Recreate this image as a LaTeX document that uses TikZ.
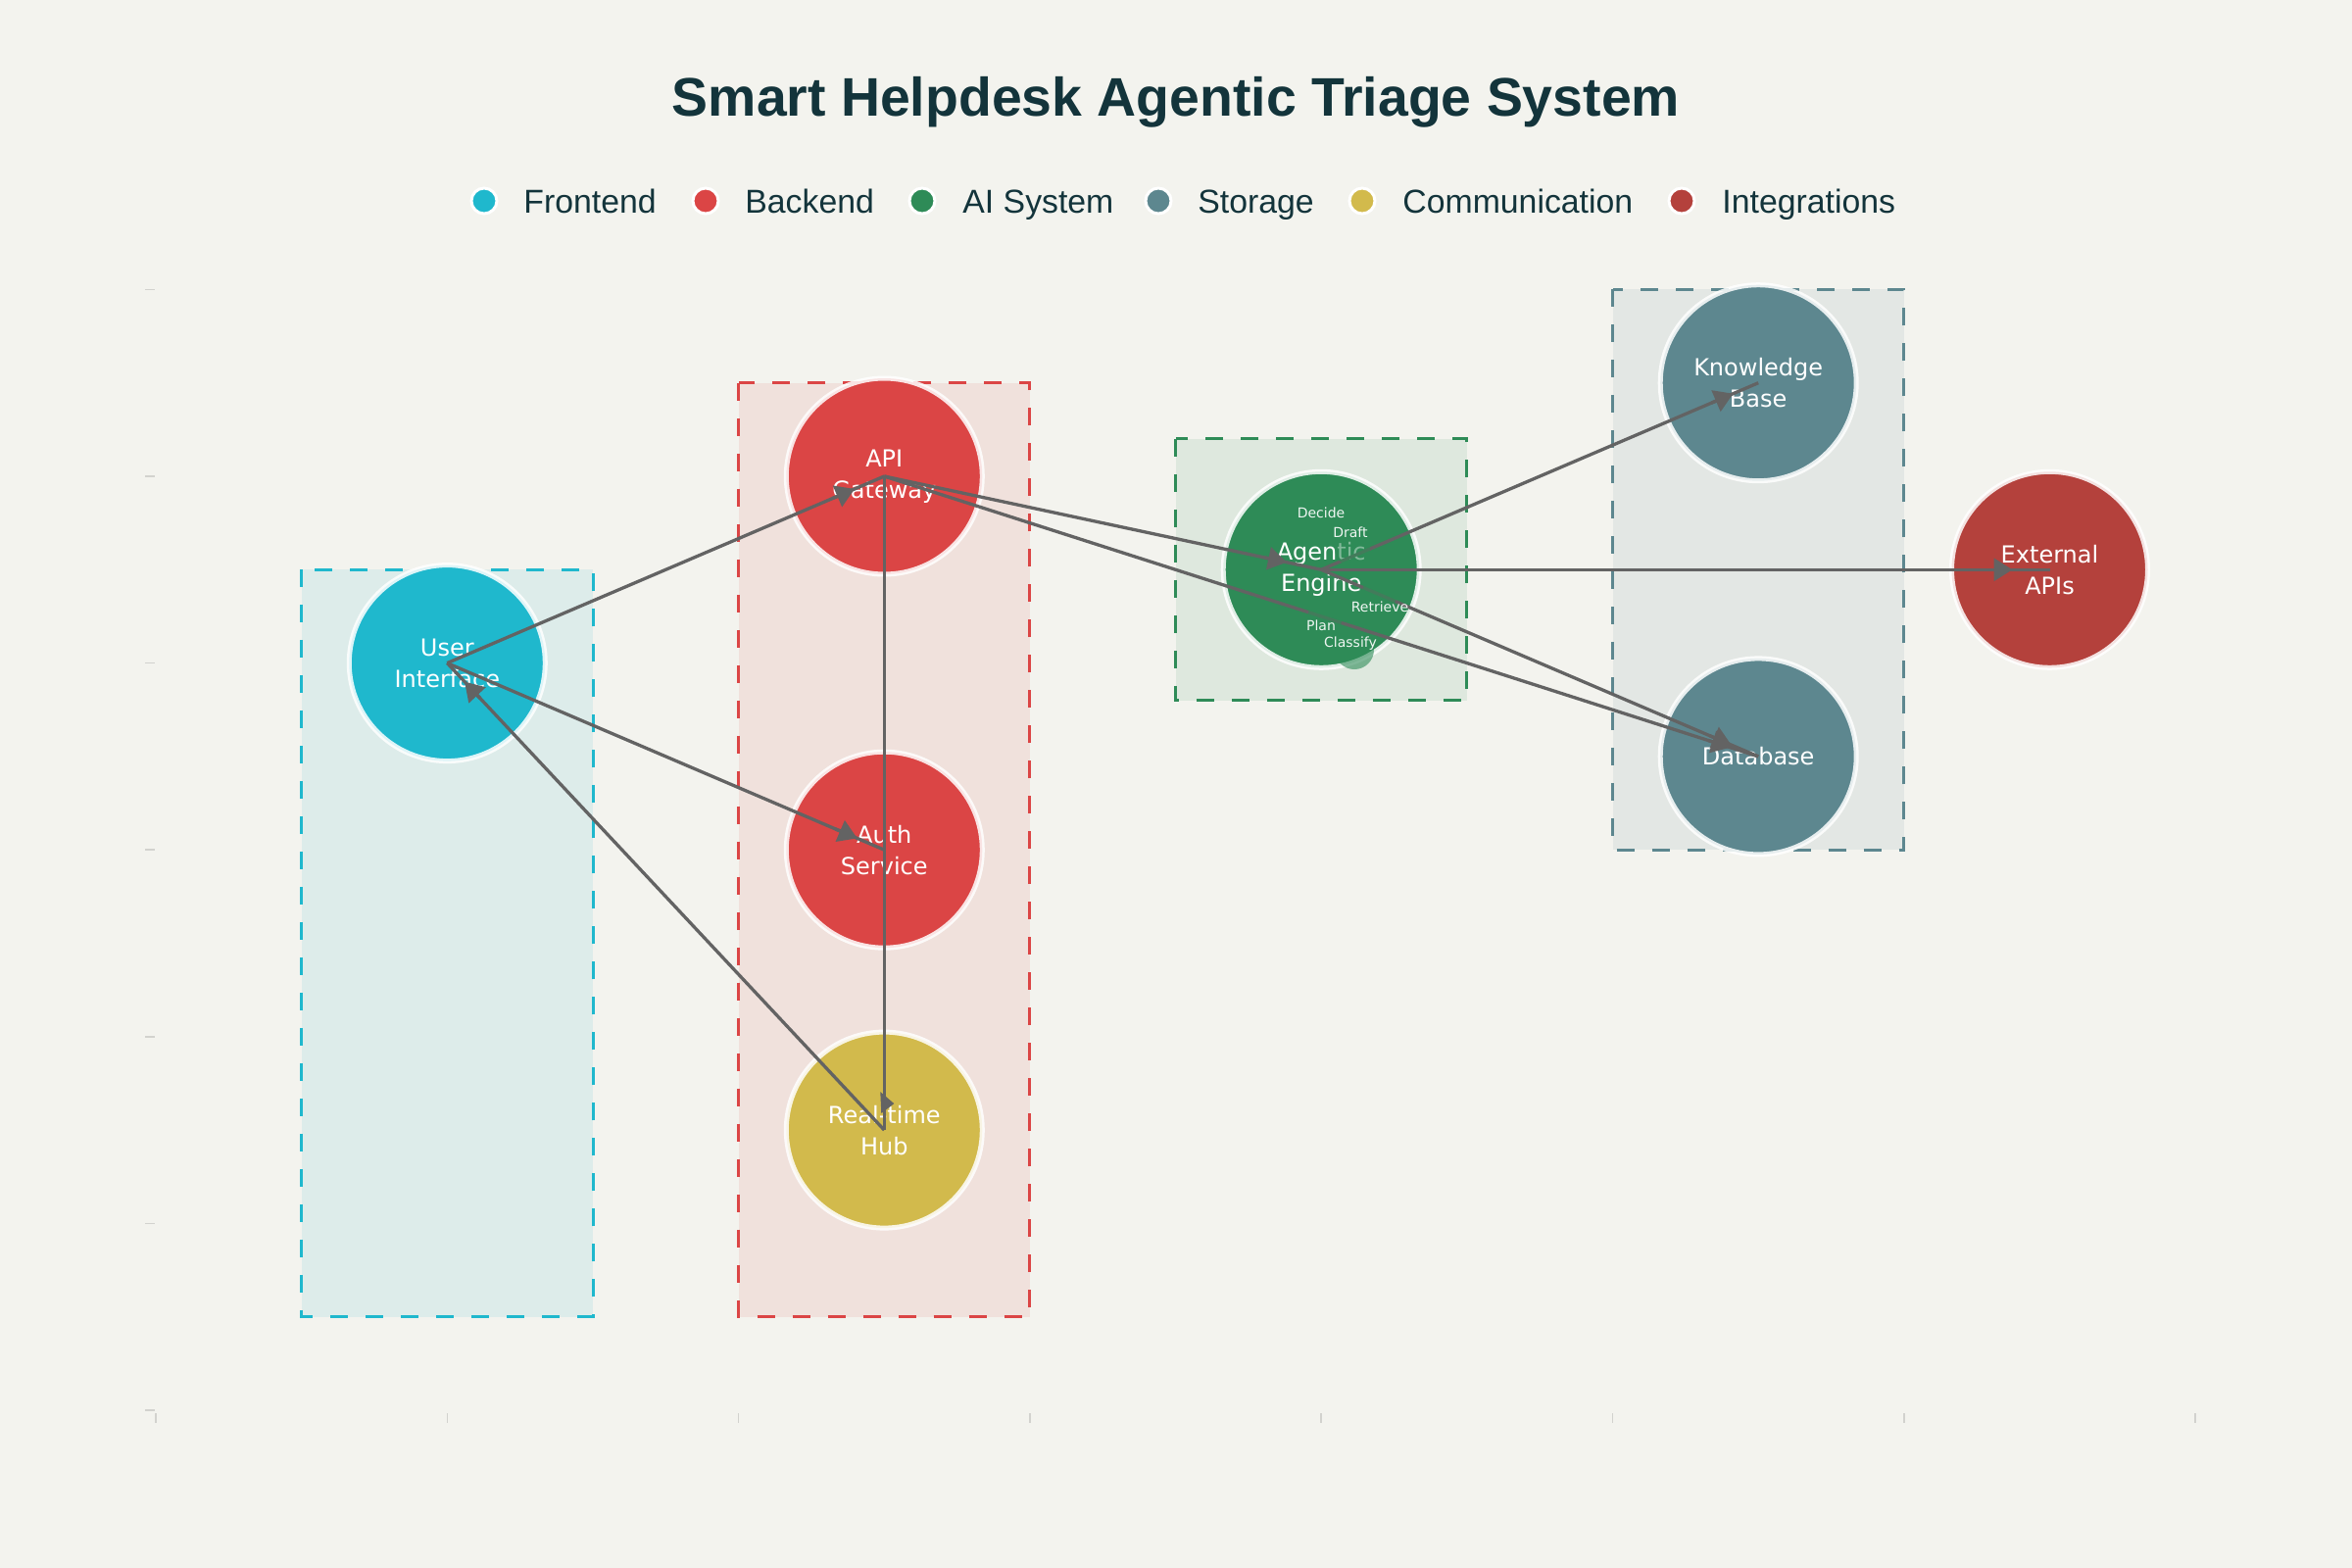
\documentclass[tikz,border=0pt]{standalone}
\usepackage{fontspec}
\setmainfont{DejaVu Sans}
\newfontfamily\legendfont{Liberation Sans}
\usetikzlibrary{arrows.meta,calc}

\definecolor{bg}{HTML}{F3F3EE}
\definecolor{titlec}{HTML}{13343B}
\definecolor{front}{HTML}{1FB8CD}
\definecolor{back}{HTML}{DB4545}
\definecolor{ai}{HTML}{2E8B57}
\definecolor{store}{HTML}{5D878F}
\definecolor{comm}{HTML}{D2BA4C}
\definecolor{integ}{HTML}{B4413C}
\definecolor{edge}{HTML}{636363}
\definecolor{tickc}{HTML}{D2D2CE}

\tikzset{
  comp/.style={circle, minimum size=100pt, inner sep=0pt, fill=#1,
    draw=white, draw opacity=0.85, line width=2.5pt, text=white, align=center,
    font=\fontsize{12pt}{16pt}\selectfont},
  groupbox/.style={draw=#1, fill=#1, fill opacity=0.1, line width=1.5pt,
    dash pattern=on 9pt off 9pt},
  link/.style={draw=edge, line width=1.65pt},
  headtip/.style={draw=edge, line width=1.65pt,
    -{Triangle[length=9.5pt,width=11.5pt]}},
  legdot/.style={circle, minimum size=13pt, inner sep=0pt, fill=#1,
    draw=white, line width=1.5pt},
  legtext/.style={anchor=base west, inner sep=0pt, text=titlec,
    font=\legendfont\fontsize{16.9pt}{20pt}\selectfont},
  steplbl/.style={text=white, text opacity=0.92, inner sep=0pt,
    font=\fontsize{7pt}{8pt}\selectfont},
  stepdot/.style={fill=ai, fill opacity=0.6},
  axistick/.style={draw=tickc, line width=0.75pt},
}

% arrowhead placed #3 (pt) before the centre of the target node
\newcommand\headto[3]{%
  \draw[headtip] ($(#2.center)!#3+12pt!(#1.center)$) -- ($(#2.center)!#3!(#1.center)$);}

\begin{document}
\begin{tikzpicture}[x=0.5pt,y=-0.5pt]
  \fill[bg] (0,0) rectangle (2400,1600);
  \useasboundingbox (0,0) rectangle (2400,1600);

  % title
  \node[anchor=base, text=titlec,
        font=\legendfont\bfseries\fontsize{27.7pt}{32pt}\selectfont]
        (title) at (1200,119) {Smart Helpdesk Agentic Triage System};

  % legend
  \node[legdot=front] (lgA) at (494,205) {};
  \node[legtext] (ltA) at (534,217) {Frontend};
  \node[legdot=back] (lgB) at (720,205) {};
  \node[legtext] (ltB) at (760,217) {Backend};
  \node[legdot=ai] (lgC) at (941,205) {};
  \node[legtext] (ltC) at (982,217) {AI System};
  \node[legdot=store] (lgD) at (1182,205) {};
  \node[legtext] (ltD) at (1222,217) {Storage};
  \node[legdot=comm] (lgE) at (1390,205) {};
  \node[legtext] (ltE) at (1431,217) {Communication};
  \node[legdot=integ] (lgF) at (1716,205) {};
  \node[legtext] (ltF) at (1757,217) {Integrations};

  % axis ticks
  \foreach \k in {0,...,7} \draw[axistick] ({159+297.3*\k},1442) -- ++(0,10);
  \foreach \k in {0,...,6} \draw[axistick] (148,{1439-190.6*\k}) -- ++(10,0);

  % group boxes
  \draw[groupbox=front] (307.7,581.3) rectangle (605.0,1343.7);
  \draw[groupbox=back]  (753.6,390.7) rectangle (1050.9,1343.7);
  \draw[groupbox=ai]    (1199.6,447.9) rectangle (1496.9,714.7);
  \draw[groupbox=store] (1645.5,295.4) rectangle (1942.8,867.2);

  % components
  \node[comp=front] (ui)   at (456.3,676.6)  {User\\Interface};
  \node[comp=back]  (api)  at (902.3,486.0)  {API\\Gateway};
  \node[comp=back]  (auth) at (902.3,867.2)  {Auth\\Service};
  \node[comp=comm]  (rt)   at (902.3,1153.1) {Real-time\\Hub};
  \node[comp=ai]    (ae)   at (1348.2,581.3) {Agentic\\Engine};
  \node[comp=store] (kb)   at (1794.2,390.7) {Knowledge\\Base};
  \node[comp=store] (db)   at (1794.2,771.9) {Database};
  \node[comp=integ] (ext)  at (2091.5,581.3) {External\\APIs};

  % connections, centre to centre
  \draw[link] (ui.center) -- (api.center);
  \draw[link] (ui.center) -- (auth.center);
  \draw[link] (rt.center) -- (ui.center);
  \draw[link] (api.center) -- (rt.center);
  \draw[link] (api.center) -- (ae.center);
  \draw[link] (api.center) -- (db.center);
  \draw[link] (ae.center) -- (kb.center);
  \draw[link] (ae.center) -- (ext.center);
  \draw[link] (ae.center) -- (db.center);

  % agent workflow steps inside the engine
  \fill[stepdot] (1380,560) circle (9pt);
  \fill[stepdot] (1408,605) circle (9pt);
  \fill[stepdot] (1353,627) circle (9pt);
  \fill[stepdot] (1382,663) circle (10pt);
  \node[steplbl] (sDecide)   at (1348,523) {Decide};
  \node[steplbl] (sDraft)    at (1378,543) {Draft};
  \node[steplbl] (sRetrieve) at (1408,619) {Retrieve};
  \node[steplbl] (sPlan)     at (1348,638) {Plan};
  \node[steplbl] (sClassify) at (1378,657) {Classify};

  % arrowheads
  \headto{ui}{api}{16.5pt}
  \headto{ui}{auth}{15pt}
  \headto{rt}{ui}{13pt}
  \headto{api}{ae}{18pt}
  \headto{api}{db}{15pt}
  \headto{ae}{kb}{14pt}
  \headto{ae}{ext}{19pt}
  \headto{ae}{db}{15pt}
  \fill[edge] ($(rt.center)+(-4,-39)$) -- ($(rt.center)+(10,-27)$)
              -- ($(rt.center)+(-3,-17)$) -- cycle;
\end{tikzpicture}
\end{document}
